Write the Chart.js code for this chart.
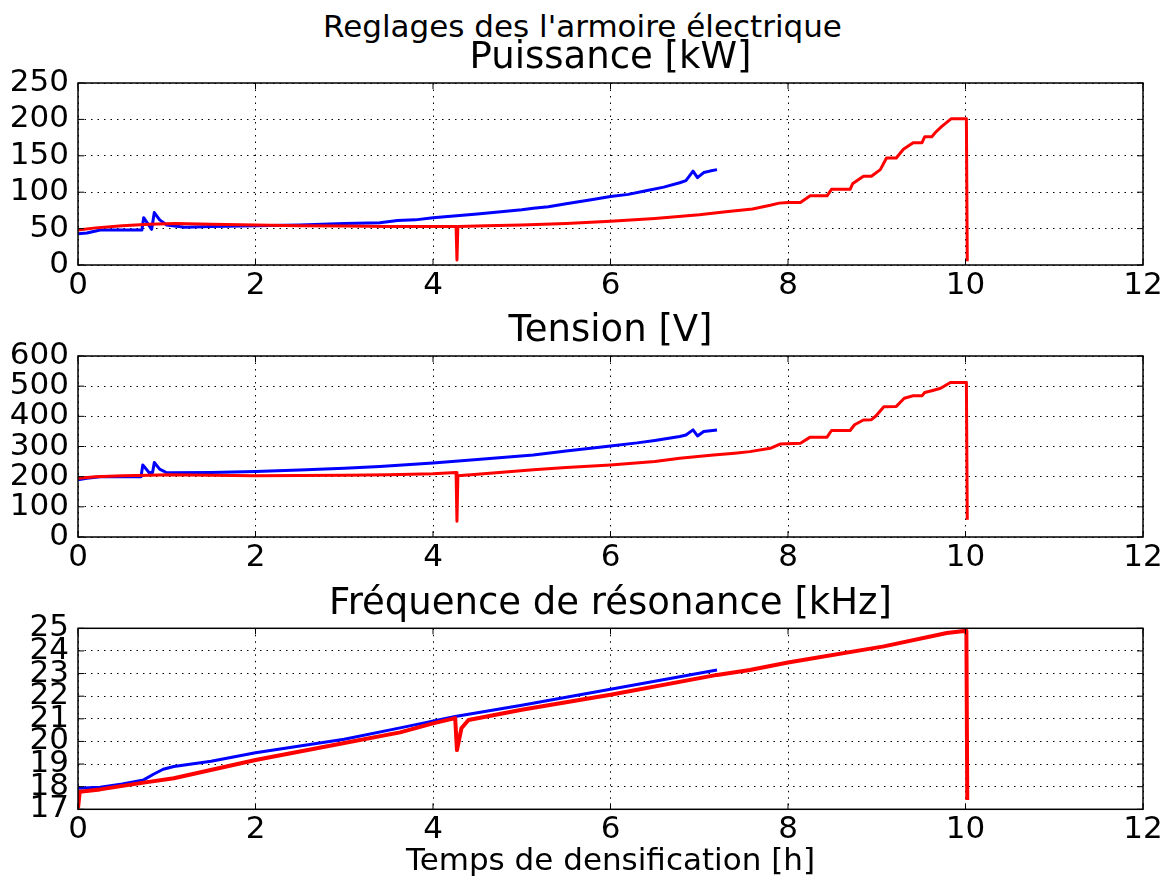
<!DOCTYPE html>
<html><head><meta charset="utf-8">
<script src="https://cdn.jsdelivr.net/npm/chart.js@4"></script>
<style>
html,body{margin:0;padding:0;background:#fff;}
#wrap{position:relative;width:1165px;height:881px;overflow:hidden;background:#fff;}
canvas{position:absolute;left:0;}
#sup{position:absolute;left:0;width:1165px;text-align:center;font-family:'DejaVu Sans';font-size:31px;line-height:36px;top:8px;color:#000;white-space:nowrap;}
</style></head><body>
<div id="wrap">
<div id="sup">Reglages des l'armoire électrique</div>
<canvas id="c1" width="1165" height="275" style="top:30px"></canvas>
<canvas id="c2" width="1165" height="272" style="top:305px"></canvas>
<canvas id="c3" width="1165" height="304" style="top:577px"></canvas>
</div>
<script>
// ---- tick labels ----
const xTicks = [0, 2, 4, 6, 8, 10, 12];
const puissanceTicks = [0, 50, 100, 150, 200, 250];
const tensionTicks = [0, 100, 200, 300, 400, 500, 600];
const frequenceTicks = [17, 18, 19, 20, 21, 22, 23, 24, 25];

// ---- Puissance [kW] ----
const tPuissanceBlue = [0, 0.1, 0.25, 0.5, 0.72, 0.74, 0.78, 0.83, 0.86, 0.92, 1.0, 1.2, 1.5, 2.0, 2.5, 3.0, 3.4, 3.6, 3.8, 4.0, 4.5, 5.0, 5.13, 5.3, 5.5, 5.8, 6.0, 6.2, 6.4, 6.6, 6.78, 6.85, 6.93, 6.98, 7.05, 7.12, 7.2];
const puissanceBlue = [43, 44, 48, 48, 48, 65, 58, 49, 72, 62, 55, 52, 53, 54, 55, 57, 58, 61, 62, 65, 70, 76, 78, 80, 84, 90, 94, 97, 102, 107, 113, 116, 129, 120, 127, 129, 131];
const tPuissanceRed = [0, 0.2, 0.5, 0.8, 1.1, 1.5, 2.0, 2.5, 3.0, 3.5, 4.0, 4.26, 4.27, 4.28, 4.6, 5.0, 5.5, 6.0, 6.5, 7.0, 7.3, 7.6, 7.8, 7.9, 8.0, 8.14, 8.25, 8.44, 8.49, 8.70, 8.73, 8.85, 8.94, 9.04, 9.11, 9.22, 9.30, 9.41, 9.51, 9.54, 9.62, 9.66, 9.73, 9.84, 10.01, 10.02];
const puissanceRed = [48, 51, 54, 56, 57, 56, 55, 54, 53.5, 53, 53, 53, 7, 53, 54, 55, 57, 60, 64, 69, 73, 77, 82, 85, 86, 86, 95, 95, 104, 104, 112, 122, 122, 131, 147, 147, 159, 168, 168, 176, 176, 182, 190, 201, 201, 5];

// ---- Tension [V] ----
const tTensionBlue = [0, 0.1, 0.25, 0.5, 0.71, 0.73, 0.8, 0.84, 0.86, 0.92, 1.0, 1.5, 2.0, 2.5, 3.0, 3.4, 4.0, 4.5, 5.13, 5.5, 6.0, 6.3, 6.5, 6.78, 6.85, 6.93, 6.98, 7.05, 7.2];
const tensionBlue = [190, 195, 200, 200, 200, 239, 214, 214, 247, 225, 213, 214, 217, 222, 228, 234, 245, 257, 272, 285, 302, 312, 320, 333, 338, 355, 335, 350, 355];
const tTensionRed = [0, 0.2, 0.5, 0.8, 1.0, 1.5, 2.0, 2.5, 3.0, 3.5, 4.0, 4.26, 4.27, 4.28, 4.5, 5.13, 5.5, 6.0, 6.5, 6.78, 7.16, 7.4, 7.57, 7.8, 7.91, 8.14, 8.25, 8.44, 8.49, 8.70, 8.75, 8.85, 8.94, 8.99, 9.08, 9.22, 9.31, 9.41, 9.51, 9.54, 9.62, 9.72, 9.83, 10.01, 10.02];
const tensionRed = [195, 200, 203, 205, 206, 205, 203, 204, 205, 206, 210, 214, 52, 203, 208, 223, 230, 239, 250, 261, 272, 278, 283, 294, 308, 311, 331, 331, 353, 353, 372, 388, 389, 401, 432, 433, 460, 468, 468, 479, 485, 493, 512, 512, 57];

// ---- Fréquence de résonance [kHz] ----
const tFrequenceBlue = [0, 0.25, 0.5, 0.74, 0.85, 0.96, 1.08, 1.5, 2.0, 3.0, 3.63, 4.25, 5.0, 6.0, 7.2];
const frequenceBlue = [17.93, 17.97, 18.12, 18.3, 18.55, 18.77, 18.89, 19.12, 19.5, 20.1, 20.6, 21.1, 21.6, 22.31, 23.16];
const tFrequenceRed = [0, 0.02, 0.25, 0.74, 1.08, 2.0, 3.0, 3.63, 4.0, 4.25, 4.27, 4.32, 4.4, 5.0, 6.0, 7.2, 7.57, 8.0, 9.08, 9.79, 10.01, 10.02];
const frequenceRed = [17.05, 17.78, 17.88, 18.18, 18.37, 19.18, 19.93, 20.4, 20.8, 21.03, 19.62, 20.58, 20.95, 21.4, 22.06, 22.94, 23.16, 23.49, 24.2, 24.79, 24.89, 17.41];

const FONT = "'DejaVu Sans'";
const pts = (xs, ys) => xs.map((x, i) => ({x: x, y: ys[i]}));

const framePlugin = {
  id: 'frame',
  afterDatasetsDraw(chart) {
    const {ctx, chartArea: a, scales} = chart;
    ctx.save();
    ctx.strokeStyle = '#000';
    ctx.lineWidth = 1;
    ctx.setLineDash([]);
    ctx.beginPath();
    scales.x.ticks.forEach(t => {
      const px = scales.x.getPixelForValue(t.value);
      ctx.moveTo(px, a.bottom); ctx.lineTo(px, a.bottom - 6);
      ctx.moveTo(px, a.top); ctx.lineTo(px, a.top + 6);
    });
    scales.y.ticks.forEach(t => {
      const py = scales.y.getPixelForValue(t.value);
      ctx.moveTo(a.left, py); ctx.lineTo(a.left + 6, py);
      ctx.moveTo(a.right, py); ctx.lineTo(a.right - 6, py);
    });
    ctx.stroke();
    ctx.lineWidth = 1.5;
    ctx.strokeRect(a.left, a.top, a.right - a.left, a.bottom - a.top);
    ctx.restore();
  }
};

function makeChart(id, cfg) {
  const yT = cfg.yTicks;
  return new Chart(document.getElementById(id), {
    type: 'line',
    data: {
      datasets: [
        {data: pts(cfg.tBlue, cfg.vBlue), borderColor: '#0000ff', borderWidth: 3, fill: false, order: 2},
        {data: pts(cfg.tRed, cfg.vRed), borderColor: '#ff0000', borderWidth: cfg.redWidth || 3, fill: false, order: 1}
      ]
    },
    options: {
      responsive: false,
      animation: false,
      devicePixelRatio: 1,
      layout: {padding: {left: 0, right: 22, top: 0, bottom: 0}},
      elements: {point: {radius: 0}, line: {tension: 0, borderJoinStyle: 'round'}},
      plugins: {
        legend: {display: false},
        tooltip: {enabled: false},
        title: {
          display: true, text: cfg.title, fullSize: false, color: '#000',
          font: {family: FONT, size: 37, weight: 'normal'},
          padding: {top: cfg.titleTop + 3, bottom: 2}
        }
      },
      scales: {
        x: {
          type: 'linear', min: 0, max: 12,
          afterBuildTicks: s => { s.ticks = xTicks.map(v => ({value: v})); },
          afterFit: s => { s.height = cfg.xHeight; },
          grid: {color: '#000', lineWidth: 1, drawTicks: false},
          border: {display: false, dash: [1.5, 5]},
          ticks: {color: '#000', font: {family: FONT, size: 31}, padding: 2, autoSkip: false, maxRotation: 0},
          title: cfg.xTitle ? {display: true, text: cfg.xTitle, color: '#000', font: {family: FONT, size: 31}, padding: {top: 0, bottom: 0}} : {display: false}
        },
        y: {
          type: 'linear', min: yT[0], max: yT[yT.length - 1],
          afterBuildTicks: s => { s.ticks = yT.map(v => ({value: v})); },
          afterFit: s => { s.width = 78; },
          grid: {color: '#000', lineWidth: 1, drawTicks: false},
          border: {display: false, dash: [1.5, 5]},
          ticks: {color: '#000', font: {family: FONT, size: 31}, padding: 9, autoSkip: false}
        }
      }
    },
    plugins: [framePlugin]
  });
}

makeChart('c1', {title: 'Puissance [kW]', titleTop: 3.6, xHeight: 40, yTicks: puissanceTicks,
  tBlue: tPuissanceBlue, vBlue: puissanceBlue, tRed: tPuissanceRed, vRed: puissanceRed});
makeChart('c2', {title: 'Tension [V]', titleTop: 1.6, xHeight: 40, yTicks: tensionTicks,
  tBlue: tTensionBlue, vBlue: tensionBlue, tRed: tTensionRed, vRed: tensionRed});
makeChart('c3', {title: 'Fréquence de résonance [kHz]', titleTop: 1.9, xHeight: 71.7, yTicks: frequenceTicks,
  tBlue: tFrequenceBlue, vBlue: frequenceBlue, tRed: tFrequenceRed, vRed: frequenceRed, redWidth: 4,
  xTitle: 'Temps de densification [h]'});
</script>
</body></html>
